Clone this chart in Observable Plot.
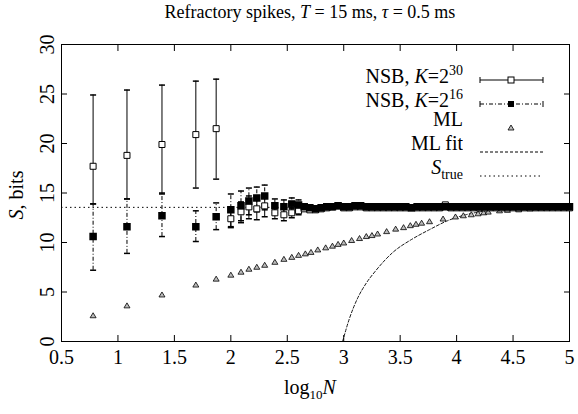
<!DOCTYPE html>
<html><head><meta charset="utf-8">
<script src="https://cdn.jsdelivr.net/npm/d3@7"></script>
<script src="https://cdn.jsdelivr.net/npm/@observablehq/plot@0.6"></script>
<style>
body,svg,svg text,div{font-family:"Liberation Serif","Times New Roman",Times,"DejaVu Serif",serif !important;}
body{margin:0;background:#fff;}
#wrap{position:relative;width:578px;height:414px;}
#title{position:absolute;top:2px;left:0;width:620px;text-align:center;font-size:18px;}
</style></head><body>
<div id="wrap">
<div id="title">Refractory spikes, <i>T</i> = 15 ms, <i>τ</i> = 0.5 ms</div>
<div id="chart" style="position:absolute;top:30px;left:0"></div>
<svg id="leg" width="578" height="414" style="position:absolute;left:0;top:0;pointer-events:none"></svg>
</div>
<script>
const xs   = [0.78,1.08,1.39,1.69,1.87,2.0,2.09,2.16,2.23,2.30,2.39,2.47,2.54,2.60];
const nsb30= [17.7,18.8,19.9,20.9,21.5,12.4,13.1,13.6,13.4,13.7,13.0,12.8,13.0,13.2];
const lo30 = [13.9,14.4,14.9,15.5,16.4,11.5,12.0,12.4,12.3,12.6,12.4,12.2,12.5,12.8];
const hi30 = [24.9,25.4,25.9,26.3,26.5,13.4,14.1,14.7,14.4,14.7,13.6,13.4,13.5,13.6];
const nsb16= [10.6,11.6,12.7,11.6,12.6,13.3,13.7,14.2,14.5,14.7,13.7,13.6,13.9,13.8];
const lo16 = [7.2,8.9,10.6,10.1,11.3,11.6,12.2,12.8,13.1,13.3,13.0,13.0,13.4,13.3];
const hi16 = [13.9,14.4,15.0,13.2,14.0,14.9,15.2,15.5,15.6,15.8,14.4,14.3,14.5,14.3];
const denseX = [2.65,2.70,2.75,2.80,2.85,2.90,2.95,3.00,3.05,3.10,3.15,3.20,3.25,3.30,3.35,3.40,3.45,3.50,3.55,3.60,3.65,3.70,3.75,3.80,3.85,3.90,3.95,4.00,4.05,4.10,4.15,4.20,4.25,4.30,4.35,4.40,4.45,4.50,4.55,4.60,4.65,4.70,4.75,4.80,4.85,4.90,4.95,5.00];
const dense16 = [13.6,13.5,13.4,13.5,13.6,13.6,13.7,13.6,13.6,13.7,13.7,13.6,13.6,13.6,13.6,13.6,13.6,13.6,13.6,13.5,13.6,13.6,13.6,13.6,13.6,13.6,13.6,13.6,13.6,13.6,13.6,13.6,13.6,13.6,13.6,13.6,13.6,13.6,13.6,13.6,13.6,13.6,13.6,13.6,13.6,13.6,13.6,13.6];
const dense30 = [13.4,13.3,13.3,13.4,13.5,13.6,13.7,13.5,13.5,13.6,13.6,13.5,13.5,13.5,13.5,13.5,13.5,13.5,13.5,13.5,13.5,13.5,13.5,13.5,13.5,13.8,13.5,13.5,13.5,13.5,13.5,13.5,13.5,13.5,13.5,13.5,13.5,13.5,13.5,13.5,13.5,13.5,13.5,13.5,13.5,13.5,13.5,13.5];
const mlX = [0.78,1.08,1.39,1.69,1.87,2.0,2.09,2.16,2.23,2.30,2.39,2.47,2.54,2.60,2.66,2.71,2.77,2.84,2.90,2.95,3.00,3.07,3.14,3.20,3.25,3.30,3.38,3.46,3.53,3.59,3.64,3.69,3.76,3.88,3.99,4.06,4.13,4.19,4.24,4.28,4.38,4.45,4.55,4.65,4.74,4.82,4.90,4.97];
const mlY = [2.6,3.6,4.7,5.7,6.3,6.7,7.0,7.3,7.5,7.7,8.0,8.3,8.5,8.7,8.85,9.0,9.25,9.46,9.63,9.81,9.95,10.2,10.4,10.6,10.7,10.86,11.1,11.35,11.5,11.7,11.84,11.95,12.1,12.37,12.58,12.7,12.8,12.9,13.0,13.07,13.2,13.25,13.3,13.4,13.45,13.5,13.5,13.52];
const fitX = [2.99,3.05,3.12,3.20,3.28,3.44,3.60,3.76,3.92,4.08,4.24,4.40,4.70,5.00];
const fitY = [0,2.3,4.3,5.9,7.1,9.05,10.3,11.3,12.2,12.8,13.16,13.4,13.5,13.55];
const sTrue = 13.55;
const xTicks = [0.5,1,1.5,2,2.5,3,3.5,4,4.5,5];
const yTicks = [0,5,10,15,20,25,30];

const main = xs.map((x,i)=>({x,s30:nsb30[i],l30:lo30[i],h30:hi30[i],s16:nsb16[i],l16:lo16[i],h16:hi16[i]}));
const dense = denseX.map((x,i)=>({x,s16:dense16[i],s30:dense30[i]}));
const ml = mlX.map((x,i)=>({x,y:mlY[i]}));
const fit = fitX.map((x,i)=>({x,y:fitY[i]}));
const cap = {draw(ctx){ctx.moveTo(-3,0);ctx.lineTo(3,0);}};
const tri = {draw(ctx){ctx.moveTo(0,-3);ctx.lineTo(3,2);ctx.lineTo(-3,2);ctx.closePath();}};
const sq = {draw(ctx){ctx.rect(-3,-3,6,6);}};
const FF = "Liberation Serif, Times New Roman, DejaVu Serif, serif";

const chart = Plot.plot({
  width:578, height:384, marginLeft:61, marginRight:9, marginTop:14, marginBottom:73,
  style:{fontFamily:FF, fontSize:"19px", background:"#fff"},
  x:{domain:[0.5,5]}, y:{domain:[0,30]},
  marks:[
    Plot.frame({stroke:"#000"}),
    Plot.axisX({ticks:xTicks, tickSize:-6, tickFormat:d=>String(d), label:null, tickPadding:14, fontSize:20, fontFamily:FF}),
    Plot.axisX({anchor:"top", ticks:xTicks, tickSize:-6, tickFormat:()=>"", label:null}),
    Plot.axisY({ticks:yTicks, tickSize:-6, label:null, tickPadding:14, tickRotate:-90, fontSize:20, fontFamily:FF}),
    Plot.axisY({anchor:"right", ticks:yTicks, tickSize:-6, tickFormat:()=>"", label:null}),
    Plot.ruleY([sTrue], {stroke:"#000", strokeDasharray:"1.5,3", strokeWidth:1}),
    Plot.line(fit, {x:"x", y:"y", curve:"monotone-x", stroke:"#000", strokeDasharray:"3,2", strokeWidth:0.9}),
    Plot.ruleX(main, {x:"x", y1:"l30", y2:"h30", stroke:"#000", strokeWidth:1}),
    Plot.dot(main, {x:"x", y:"l30", symbol:cap, stroke:"#000", r:3}),
    Plot.dot(main, {x:"x", y:"h30", symbol:cap, stroke:"#000", r:3}),
    Plot.ruleX(main, {x:"x", y1:"l16", y2:"h16", stroke:"#000", strokeWidth:1, strokeDasharray:"4,2,1,2"}),
    Plot.dot(main, {x:"x", y:"l16", symbol:cap, stroke:"#000", r:3}),
    Plot.dot(main, {x:"x", y:"h16", symbol:cap, stroke:"#000", r:3}),
    Plot.dot(ml, {x:"x", y:"y", symbol:tri, fill:"#bbb", stroke:"#000", strokeWidth:0.8, r:3}),
    Plot.dot(main, {x:"x", y:"s30", symbol:sq, fill:"#fff", stroke:"#000", strokeWidth:1, r:3}),
    Plot.dot(dense, {x:"x", y:"s30", symbol:sq, fill:"#fff", stroke:"#000", strokeWidth:1, r:3}),
    Plot.dot(dense, {x:"x", y:"s16", symbol:sq, fill:"#000", stroke:"#000", r:3}),
    Plot.dot(main, {x:"x", y:"s16", symbol:sq, fill:"#000", stroke:"#000", r:3})
  ]
});
document.getElementById("chart").appendChild(chart);

const leg = d3.select("#leg");
const T = (x,y,html,anchor="end")=>leg.append("foreignObject").attr("x",anchor==="end"?x-220:x-110).attr("y",y-14).attr("width",220).attr("height",40)
  .append("xhtml:div").style("text-align",anchor==="end"?"right":"center").style("font-size","20px").style("line-height","22px").html(html);
T(310,390,"log<sub style='font-size:13px'>10</sub><i>N</i>","middle");
leg.append("foreignObject").attr("x",-90).attr("y",180).attr("width",220).attr("height",30)
  .attr("transform","rotate(-90,20,195)")
  .append("xhtml:div").style("text-align","center").style("font-size","20px").html("<i>S</i>, bits");
const rows=[["NSB, <i>K</i>=2<sup style='font-size:14px'>30</sup>",80],["NSB, <i>K</i>=2<sup style='font-size:14px'>16</sup>",104],["ML",128],["ML fit",152],["<i>S</i><sub style='font-size:14px'>true</sub>",176]];
rows.forEach(([h,y])=>T(463,y-6,h));
const L=(y,da)=>leg.append("line").attr("x1",480).attr("x2",543).attr("y1",y).attr("y2",y).attr("stroke","#000").attr("stroke-dasharray",da);
L(80,null);L(104,"4,2,1,2");L(152,"3,2");L(176,"1.5,3");
[80,104].forEach(y=>{[480,543].forEach(x=>leg.append("line").attr("x1",x).attr("x2",x).attr("y1",y-3).attr("y2",y+3).attr("stroke","#000"));});
leg.append("rect").attr("x",508).attr("y",77).attr("width",6).attr("height",6).attr("fill","#fff").attr("stroke","#000");
leg.append("rect").attr("x",508).attr("y",101).attr("width",6).attr("height",6).attr("fill","#000");
leg.append("path").attr("d","M511,125 L514,130 L508,130Z").attr("fill","#bbb").attr("stroke","#000").attr("stroke-width",0.8);
</script></body></html>
